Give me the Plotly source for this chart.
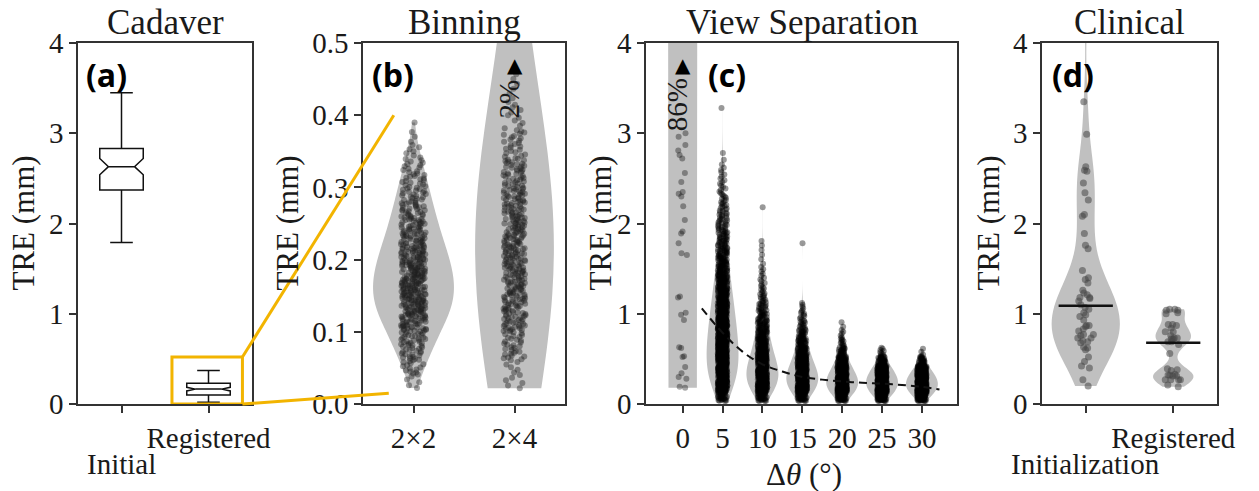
import numpy as np
import plotly.graph_objects as go

W, H = 1259, 491

# ---------------- data ----------------
# (a) Cadaver: box statistics (TRE, mm)
cad_pos = [0, 1]
cad_labels = ["Initial", "Registered"]
cad_q1 = [2.37, 0.10]
cad_median = [2.63, 0.165]
cad_q3 = [2.83, 0.23]
cad_lowerfence = [1.79, 0.02]
cad_upperfence = [3.45, 0.37]
cad_notchspan = [0.09, 0.02]

# (b) Binning: number of TRE samples per bin
bin_labels = ["2×2", "2×4"]
b22_start, b22_step = 0.02, 0.02
b22_counts = [5, 14, 21, 27, 38, 47, 52, 51, 47, 42, 35, 30, 25, 21, 17, 12, 7, 3, 1]
b24_start, b24_step = 0.02, 0.04
b24_counts = [11, 31, 53, 59, 63, 59, 53, 42, 25, 11, 6]
b24_over = [0.55, 0.62, 0.70, 0.85, 1.10, 1.60, 2.30, 3.10]
b_over_pct = 2

# (c) View separation: TRE per bin of 0.1 mm for each angle
c_angles = [0, 5, 10, 15, 20, 25, 30]
c_start, c_step = 0.03, 0.1
c0_low = [3.00, 2.96, 2.87, 2.81, 2.76, 2.72, 2.56, 2.46, 2.35, 2.33, 2.30, 2.19, 2.04,
          1.91, 1.89, 1.78, 1.67, 1.65, 1.19, 1.18, 1.01, 0.99, 0.93, 0.63, 0.62,
          0.53, 0.52, 0.41, 0.34, 0.30, 0.28, 0.19, 0.18]
c0_high_start, c0_high_step = 4.0, 10.0
c0_high_counts = [40, 32, 26, 22, 18, 15, 12, 10, 8, 7]
c5_counts = [30, 60, 75, 80, 80, 78, 74, 70, 65, 60, 55, 50, 44, 38, 33, 28, 24, 20, 17, 14,
             12, 10, 8, 6, 5, 4, 2, 1, 0, 0, 0, 0, 1]
c10_counts = [35, 70, 85, 80, 65, 50, 40, 32, 26, 20, 15, 10, 7, 5, 4, 2, 2, 2, 0, 0, 0, 1]
c15_counts = [40, 85, 100, 80, 55, 40, 28, 20, 12, 8, 5, 0, 0, 0, 0, 0, 0, 1]
c20_counts = [50, 110, 105, 70, 40, 22, 10, 5, 2]
c25_counts = [60, 120, 120, 80, 35, 8]
c30_counts = [65, 130, 120, 70, 25, 3]
c_over_pct = 86
c_fit_x = [2.4, 5, 7.5, 10, 12.5, 15, 17.5, 20, 22.5, 25, 27.5, 30, 32.2]
c_fit_y = [1.06, 0.79, 0.58, 0.44, 0.36, 0.30, 0.27, 0.25, 0.235, 0.225, 0.21, 0.19, 0.16]

# (d) Clinical
d_labels = ["Initialization", "Registered"]
d_init = [4.40, 3.35, 2.99, 2.63, 2.59, 2.58, 2.45, 2.34, 2.26, 2.10, 2.08, 1.89, 1.76, 1.72,
          1.48, 1.40, 1.38, 1.34, 1.26, 1.23, 1.21, 1.18, 1.18, 1.17, 1.14, 1.10, 1.07, 1.05,
          1.01, 0.99, 0.97, 0.93, 0.87, 0.87, 0.86, 0.83, 0.81, 0.77, 0.77, 0.76, 0.73, 0.73,
          0.70, 0.69, 0.68, 0.63, 0.62, 0.60, 0.52, 0.47, 0.42, 0.40, 0.27, 0.20]
d_reg = [1.05, 1.05, 1.04, 1.04, 1.01, 1.00, 0.88, 0.88, 0.87, 0.84, 0.80, 0.80, 0.76, 0.73,
         0.73, 0.72, 0.72, 0.69, 0.69, 0.66, 0.56, 0.39, 0.38, 0.37, 0.33, 0.32, 0.32, 0.31,
         0.31, 0.27, 0.27, 0.27, 0.27, 0.21, 0.19]
d_medians = [1.09, 0.68]


def expand(start, step, counts):
    vals = []
    for k, n in enumerate(counts):
        lo = start + k * step
        for j in range(n):
            vals.append(lo + (j + 0.5) * step / n)
    return vals


# ---------------- layout geometry ----------------
def dom_x(x0, x1):
    return [x0 / W, x1 / W]


Y_DOM = [1 - 404 / H, 1 - 43 / H]
XA = dict(a=dom_x(78, 252), b=dom_x(363, 565), c=dom_x(646, 957), d=dom_x(1042, 1217))
RX = dict(a=[-0.5, 1.5], b=[-0.5, 1.5], c=[-4.6, 34.4], d=[-0.5, 1.5])
RY = dict(a=[0, 4], b=[0, 0.5], c=[0, 4], d=[0, 4])

GRAY = "rgb(192,192,192)"
SERIF = "Liberation Serif"
TXT = "#1a1a1a"
YEL = "#F2B400"

fig = go.Figure()


def violin(xpos, vals, xa, ya, width, bw, jitter, msize, mcolor):
    fig.add_trace(go.Violin(
        x=[xpos] * len(vals), y=vals, xaxis=xa, yaxis=ya, width=width, bandwidth=bw,
        spanmode="hard", points="all", pointpos=0, jitter=jitter,
        fillcolor=GRAY, line=dict(width=0, color="rgba(0,0,0,0)"),
        marker=dict(size=msize, color=mcolor, line=dict(width=0)),
        hoverinfo="skip", showlegend=False))


# (a) boxes
fig.add_trace(go.Box(
    x=cad_pos, q1=cad_q1, median=cad_median, q3=cad_q3,
    lowerfence=cad_lowerfence, upperfence=cad_upperfence, notchspan=cad_notchspan,
    notched=True, notchwidth=0.2, width=0.5, whiskerwidth=0.52, boxpoints=False,
    fillcolor="white", line=dict(color="#111", width=1.5),
    xaxis="x", yaxis="y", hoverinfo="skip", showlegend=False))

# (b) violins
b22 = expand(b22_start, b22_step, b22_counts)
b24 = expand(b24_start, b24_step, b24_counts) + b24_over
violin(0, b22, "x2", "y2", 0.80, 0.024, 0.31, 6, "rgba(30,30,30,0.42)")
violin(1, b24, "x2", "y2", 0.78, 0.20, 0.28, 6, "rgba(30,30,30,0.42)")

# (c) violins
c0 = c0_low + expand(c0_high_start, c0_high_step, c0_high_counts)
bw0 = 60.0
# width so that the visible part (0-4 mm) has the reference half-width
t = np.linspace(min(c0), max(c0), 400)
arr = np.array(c0)
kde = np.exp(-0.5 * ((t[:, None] - arr[None, :]) / bw0) ** 2).sum(axis=1)
k2 = np.exp(-0.5 * ((2.0 - arr) / bw0) ** 2).sum()
w0 = 3.6 * kde.max() / k2
violin(0, c0, "x3", "y3", w0, bw0, 0.3, 6, "rgba(0,0,0,0.35)")
c_series = [c5_counts, c10_counts, c15_counts, c20_counts, c25_counts, c30_counts]
c_bws = [0.2, 0.12, 0.1, 0.08, 0.07, 0.06]
for ang, cnt, bw in zip(c_angles[1:], c_series, c_bws):
    violin(ang, expand(c_start, c_step, cnt), "x3", "y3", 4.0, bw, 0.3, 6, "rgba(0,0,0,0.4)")

fig.add_trace(go.Scatter(x=c_fit_x, y=c_fit_y, mode="lines", line_shape="spline",
                         line=dict(color="#111", width=2, dash="8px,5px"),
                         xaxis="x3", yaxis="y3", hoverinfo="skip", showlegend=False))

# (d) violins
violin(0, d_init, "x4", "y4", 0.78, 0.30, 0.26, 7, "rgba(70,70,70,0.55)")
violin(1, d_reg, "x4", "y4", 0.46, 0.08, 0.6, 7, "rgba(70,70,70,0.55)")
for i, m in enumerate(d_medians):
    fig.add_trace(go.Scatter(x=[i - 0.31, i + 0.31], y=[m, m], mode="lines",
                             line=dict(color="#111", width=2.5), xaxis="x4", yaxis="y4",
                             hoverinfo="skip", showlegend=False))

# ---------------- axes ----------------
TICK_FS = 29
base = dict(showline=True, linecolor="#333", linewidth=1.5, mirror=True, ticks="outside",
            ticklen=7, tickwidth=1.5, tickcolor="#333", showgrid=False, zeroline=False,
            tickfont=dict(family=SERIF, size=TICK_FS, color=TXT), fixedrange=True,
            automargin=False, tickangle=0)
names = ["a", "b", "c", "d"]
for i, p in enumerate(names):
    sfx = "" if i == 0 else str(i + 1)
    xa = dict(base, domain=XA[p], range=RX[p], anchor="y" + sfx)
    ya = dict(base, domain=Y_DOM, range=RY[p], anchor="x" + sfx)
    if p == "a":
        xa.update(tickvals=cad_pos, ticktext=["", cad_labels[1]])
        ya.update(tickvals=[0, 1, 2, 3, 4])
    elif p == "b":
        xa.update(tickvals=[0, 1], ticktext=bin_labels)
        ya.update(tickvals=[0, 0.1, 0.2, 0.3, 0.4, 0.5], tickformat=".1f")
    elif p == "c":
        xa.update(tickvals=c_angles)
        ya.update(tickvals=[0, 1, 2, 3, 4])
    else:
        xa.update(tickvals=[0, 1], ticktext=["", d_labels[1]])
        ya.update(tickvals=[0, 1, 2, 3, 4])
    fig.layout["xaxis" + sfx] = xa
    fig.layout["yaxis" + sfx] = ya

# ---------------- annotations ----------------
ann = []
# lower-row category labels (staggered below the ticks)
for xr, lab in [("x", cad_labels[0]), ("x4", d_labels[0])]:
    ann.append(dict(text=lab, xref=xr, x=0, yref="paper", y=1 - 464 / H,
                    xanchor="center", yanchor="middle", showarrow=False,
                    font=dict(family=SERIF, size=TICK_FS, color=TXT)))
titles = ["Cadaver", "Binning", "View Separation", "Clinical"]
for i, (p, ttl) in enumerate(zip(names, titles)):
    sfx = "" if i == 0 else str(i + 1)
    ann.append(dict(text=ttl, xref="x" + sfx + " domain", x=0.5, yref="paper", y=1 - 22.5 / H,
                    xanchor="center", yanchor="middle", showarrow=False,
                    font=dict(family=SERIF, size=35, color=TXT)))
ylab_x = [23, 287, 600, 988]
for i, xp in enumerate(ylab_x):
    sfx = "" if i == 0 else str(i + 1)
    ann.append(dict(text="TRE (mm)", xref="paper", x=xp / W, yref="y" + sfx + " domain", y=0.5,
                    xanchor="center", yanchor="middle", textangle=-90, showarrow=False,
                    font=dict(family=SERIF, size=31, color=TXT)))
letters = ["(a)", "(b)", "(c)", "(d)"]
let_x = [106, 393, 727, 1073]
for i, (lt, xp) in enumerate(zip(letters, let_x)):
    ann.append(dict(text="<b>%s</b>" % lt, xref="paper", x=xp / W, yref="paper", y=1 - 75 / H,
                    xanchor="center", yanchor="middle", showarrow=False,
                    font=dict(family="Open Sans", size=32, color="#000")))
ann.append(dict(text="Δ<i>θ</i> (°)", xref="paper", x=804 / W, yref="paper", y=1 - 474 / H,
                xanchor="center", yanchor="middle", showarrow=False,
                font=dict(family=SERIF, size=31, color=TXT)))
# overflow indicators
for xr, yr, xv in [("x2", "y2", 1), ("x3", "y3", 0)]:
    ann.append(dict(text="▲", xref=xr, x=xv, yref=yr + " domain", y=(404 - 65) / 361,
                    xanchor="center", yanchor="middle", showarrow=False,
                    font=dict(family="DejaVu Sans", size=20, color="#000")))
ann.append(dict(text="%d%%" % b_over_pct, xref="x2", x=1, xshift=-6, yref="y2 domain",
                y=(404 - 99) / 361, xanchor="center", yanchor="middle", textangle=-90,
                showarrow=False, font=dict(family=SERIF, size=29, color=TXT)))
ann.append(dict(text="%d%%" % c_over_pct, xref="x3", x=0, xshift=-5, yref="y3 domain",
                y=(404 - 104.5) / 361, xanchor="center", yanchor="middle", textangle=-90,
                showarrow=False, font=dict(family=SERIF, size=29, color=TXT)))


# ---------------- zoom box + connectors ----------------
def px_x(p, v):
    d, r = XA[p], RX[p]
    return d[0] + (v - r[0]) / (r[1] - r[0]) * (d[1] - d[0])


def px_y(p, v):
    r = RY[p]
    return Y_DOM[0] + (v - r[0]) / (r[1] - r[0]) * (Y_DOM[1] - Y_DOM[0])


zoom_x = [0.58, 1.39]
zoom_y = [0.0, 0.52]
conn_bx = [-0.245, -0.195]
conn_by = [0.015, 0.40]
shapes = [dict(type="rect", xref="x", yref="y", x0=zoom_x[0], x1=zoom_x[1], y0=zoom_y[0],
               y1=zoom_y[1], line=dict(color=YEL, width=3))]
for k in range(2):
    shapes.append(dict(type="line", xref="paper", yref="paper",
                       x0=px_x("a", zoom_x[1]), y0=px_y("a", zoom_y[k]),
                       x1=px_x("b", conn_bx[k]), y1=px_y("b", conn_by[k]),
                       line=dict(color=YEL, width=3)))

fig.update_layout(width=W, height=H, margin=dict(l=0, r=0, t=0, b=0),
                  paper_bgcolor="white", plot_bgcolor="white", showlegend=False,
                  violinmode="overlay", boxmode="overlay", annotations=ann, shapes=shapes,
                  font=dict(family=SERIF, size=27, color=TXT))

fig.write_html("out.html", config={"displayModeBar": False},
               post_script="document.body.style.margin='0px';")
